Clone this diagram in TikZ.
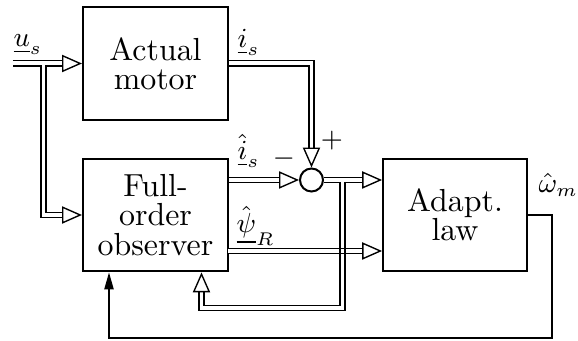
\documentclass[tikz,border=0pt]{standalone}
\usetikzlibrary{arrows.meta}
\begin{document}
\begin{tikzpicture}[x=0.326pt,y=-0.326pt,
  box/.style={draw, line width=0.65pt, minimum width=47.3pt, minimum height=36.8pt, align=center, inner sep=0pt, font=\fontsize{10.4}{9.5}\selectfont},
  dbl/.style={double, line width=0.45pt, double distance=1.3pt},
  dblarrow/.style={dbl, -{Triangle[length=6.5pt, width=5.6pt, fill=white, line width=0.45pt]}},
  thinarrow/.style={line width=0.5pt, -{Triangle[length=5.5pt, width=3pt]}},
  thinline/.style={line width=0.45pt},
  lbl/.style={inner sep=0pt, font=\fontsize{9}{10}\selectfont}]
\useasboundingbox (0,0) rectangle (578,341);
% blocks
\node[box] (motor) at (155.5,63.5) {Actual\\motor};
\node[box] (obs) at (155.5,215) {Full-\\order\\observer};
\node[box, minimum width=46.9pt] (adapt) at (455,215) {Adapt.\\law};
\node[circle, draw, line width=0.65pt, minimum size=7.5pt, inner sep=0pt] (sum) at (311.5,180) {};
% coordinates
\coordinate (in) at (13,63.5);
\coordinate (br) at (43.5,63.5);
\coordinate (br2) at (342.5,180);
\coordinate (psi) at (228,251);
\coordinate (lp1) at (342.5,308);
\coordinate (lp2) at (201.5,308);
\coordinate (fb1) at (552,338);
\coordinate (fb2) at (109,338);
% double connectors
\draw[dblarrow] (in) -- (motor.west);
\draw[dblarrow] ([yshift=-0.65pt]br) |- (obs.west);
\draw[dblarrow] (motor.east) -| (sum.north);
\draw[dblarrow] (obs.east |- sum.west) -- (sum.west);
\draw[dblarrow] (sum.east) -- (sum.east -| adapt.west);
\draw[dblarrow] (psi) -- (psi -| adapt.west);
\draw[dblarrow] ([yshift=-0.65pt]br2) -- (lp1) -- (lp2) -- (lp2 |- obs.south);
% crossing: both double lines stay visible
\begin{scope}
\clip ([xshift=-4pt,yshift=-4pt]psi -| br2) rectangle ([xshift=4pt,yshift=4pt]psi -| br2);
\draw[thinline] ([yshift=0.875pt]psi) -- ([yshift=0.875pt]psi -| adapt.west);
\draw[thinline] ([yshift=-0.875pt]psi) -- ([yshift=-0.875pt]psi -| adapt.west);
\end{scope}
% thin feedback
\draw[thinarrow] (adapt.east) -| (fb1) -- (fb2) -- (fb2 |- obs.south);
% labels
\node[lbl, anchor=base west] (lus) at (13,47) {$\underline{u}_s$};
\node[lbl, anchor=base west] (lis) at (237,48) {$\underline{i}_s$};
\node[lbl, anchor=base west] (lish) at (237,160) {$\hat{\underline{i}}_s$};
\node[lbl] (lminus) at (284,159) {$-$};
\node[lbl] (lplus) at (332,141) {$+$};
\node[lbl, anchor=south west] (lpsi) at (236,246) {$\hat{\underline{\psi}}_R$};
\node[lbl, anchor=base west] (lom) at (538,193) {$\hat{\omega}_m$};
\end{tikzpicture}
\end{document}
